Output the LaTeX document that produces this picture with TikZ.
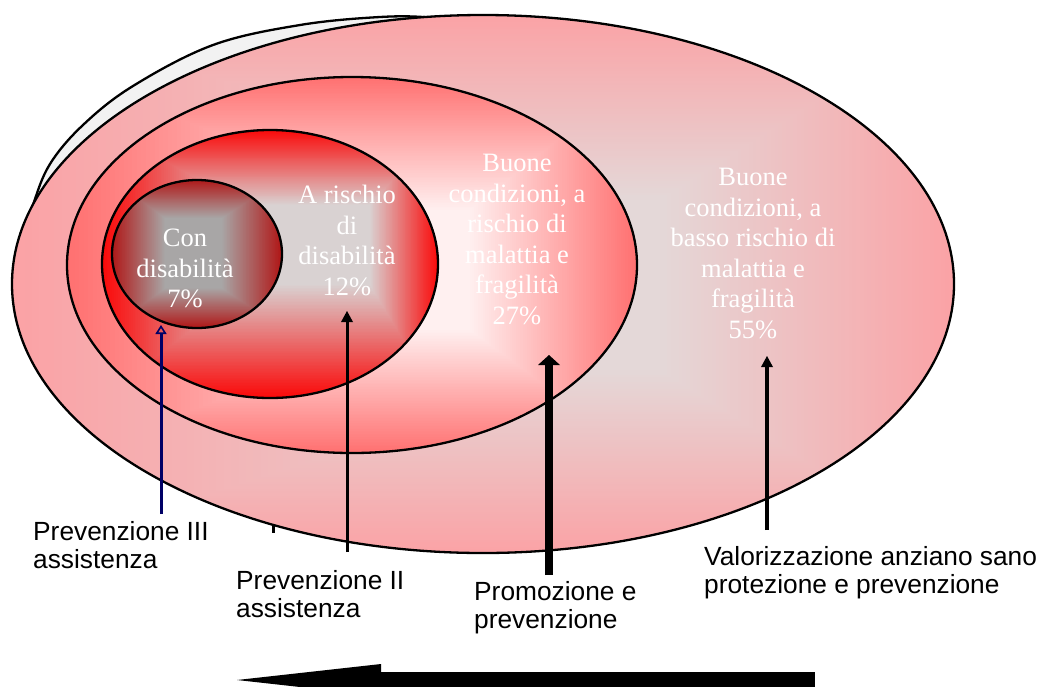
\documentclass[tikz,border=0pt]{standalone}
\usepackage{fontspec}
\setmainfont{Liberation Serif}
\newfontfamily\labelfont{Liberation Sans}
\usetikzlibrary{arrows.meta}

\definecolor{backgrey}{HTML}{F2F2F2}
\definecolor{outeredge}{HTML}{FBA2A5}
\definecolor{outercenter}{HTML}{E4D8D8}
\definecolor{mededge}{HTML}{FF7070}
\definecolor{medcenter}{HTML}{FFF0F0}
\definecolor{rededge}{HTML}{FA0808}
\definecolor{redcenter}{HTML}{D9D2D2}
\definecolor{smalledge}{HTML}{B01515}
\definecolor{smallcenter}{HTML}{A8A6A6}
\definecolor{navyline}{HTML}{000066}

% rectangular "path" gradient: bbox (#1..#4), focus rectangle (#5..#8), colours gedge / gcenter
\newcommand\rectgrad[8]{%
  \foreach \i in {0,...,80}{%
    \pgfmathsetmacro\gt{1-\i/80}%
    \pgfmathsetmacro\gxa{#5-\gt*(#5-#1)}%
    \pgfmathsetmacro\gxb{#6+\gt*(#2-#6)}%
    \pgfmathsetmacro\gya{#7-\gt*(#7-#3)}%
    \pgfmathsetmacro\gyb{#8+\gt*(#4-#8)}%
    \pgfmathsetmacro\gpc{100*\gt}%
    \fill[gedge!\gpc!gcenter] (\gxa,\gya) rectangle (\gxb,\gyb);
  }%
}

\tikzset{
  ring/.style={draw=black, line width=2.3pt},
  intext/.style={text=white, align=center, inner sep=0pt, anchor=north,
    font=\fontsize{26.5}{30.6}\selectfont},
  lbl/.style={text=black, align=left, inner sep=0pt, anchor=north west,
    font=\labelfont\fontsize{26.3}{28.5}\selectfont},
}

\begin{document}
\begin{tikzpicture}[x=1pt,y=-1pt]
\useasboundingbox (0,0) rectangle (1043,686);
\clip (0,0) rectangle (1043,686);

% back shape (only its upper-left crescent shows)
\draw[ring, fill=backgrey] plot[smooth, tension=0.6] coordinates
  {(22,245) (33,205) (50,164) (83,125) (133,86) (213,45) (300,25) (380,17) (430,17.5) (470,24)}
  -- (300,150) -- cycle;

% outer ellipse
\begin{scope}
  \clip (483,284) ellipse [x radius=471, y radius=269];
  \colorlet{gedge}{outeredge}\colorlet{gcenter}{outercenter}
  \rectgrad{10}{956}{13}{556}{600}{660}{200}{370}
\end{scope}
\draw[ring] (483,284) ellipse [x radius=471, y radius=269];

% medium ellipse
\begin{scope}
  \clip (352,265) ellipse [x radius=285, y radius=188];
  \colorlet{gedge}{mededge}\colorlet{gcenter}{medcenter}
  \rectgrad{66}{638}{76}{454}{420}{470}{210}{330}
\end{scope}
\draw[ring] (352,265) ellipse [x radius=285, y radius=188];

% red ellipse
\begin{scope}
  \clip (270,264) ellipse [x radius=168, y radius=134];
  \colorlet{gedge}{rededge}\colorlet{gcenter}{redcenter}
  \rectgrad{101}{439}{129}{399}{250}{370}{205}{285}
\end{scope}
\draw[ring] (270,264) ellipse [x radius=168, y radius=134];

% small ellipse
\begin{scope}
  \clip (197,254) ellipse [x radius=85, y radius=74];
  \colorlet{gedge}{smalledge}\colorlet{gcenter}{smallcenter}
  \rectgrad{111}{283}{179}{329}{165}{222}{218}{288}
\end{scope}
\draw[ring] (197,254) ellipse [x radius=85, y radius=74];

% texts inside
\node[intext] (t7) at (185,229) {Con\\disabilità\\7\%};
\node[intext] (t12) at (347,185) {A rischio\\di\\disabilità\\12\%};
\node[intext] (t27) at (517,154) {Buone\\condizioni, a\\rischio di\\malattia e\\fragilità\\27\%};
\node[intext] (t55) at (753,168) {Buone\\condizioni, a\\basso rischio di\\malattia e\\fragilità\\55\%};

% labels
\node[lbl] (l3) at (33,521) {Prevenzione III\\assistenza};
\node[lbl] (l2) at (236,570) {Prevenzione II\\assistenza};
\node[lbl] (lp) at (474,581) {Promozione e\\prevenzione};
\node[lbl] (lv) at (704,546) {Valorizzazione anziano sano\\protezione e prevenzione};

% arrows
\coordinate (a3s) at (161,514); \coordinate (a3e) at (161,325);
\coordinate (a2s) at (347,552); \coordinate (a2e) at (347,311);
\coordinate (aps) at (549,575); \coordinate (ape) at (549,355);
\coordinate (avs) at (767,530); \coordinate (ave) at (767,356);
\coordinate (tk1) at (273,526); \coordinate (tk2) at (273,533);
\coordinate (bs) at (815,680); \coordinate (be) at (237,680);

\draw[draw=navyline, line width=3pt,
  -{Triangle[open, width=11pt, length=9pt, line width=1.6pt]}] (a3s) -- (a3e);
\draw[draw=black, line width=3pt, -{Triangle[width=12pt, length=11pt, line width=0pt]}] (a2s) -- (a2e);
\draw[draw=black, line width=8pt, -{Triangle[width=22pt, length=10pt, line width=0pt]}] (aps) -- (ape);
\draw[draw=black, line width=3.5pt, -{Triangle[width=12pt, length=11pt, line width=0pt]}] (avs) -- (ave);
\draw[line width=3pt] (tk1) -- (tk2);
\draw[draw=black, line width=16pt, -{Triangle[width=32pt, length=144pt, line width=0pt]}] (bs) -- (be);
\end{tikzpicture}
\end{document}
